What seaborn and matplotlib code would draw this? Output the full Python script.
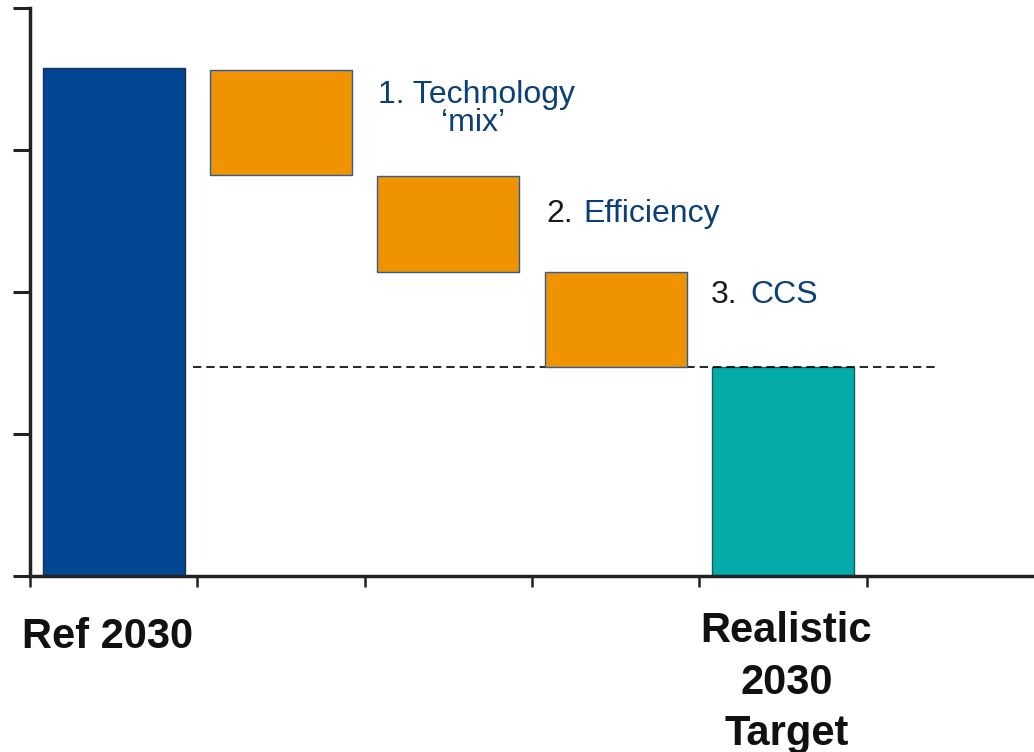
import matplotlib
matplotlib.use("Agg")
import matplotlib.pyplot as plt
import seaborn as sns
import pandas as pd

sns.set_theme(style="white")
plt.rcParams['font.family'] = ['Liberation Sans', 'DejaVu Sans']

# ---- data ----
categories = ["Ref 2030", "Technology 'mix'", "Efficiency", "CCS", "Realistic 2030 Target", ""]
totals = [3.577, None, None, None, 1.472, None]          # full bars
step_tops = [None, 3.563, 2.817, 2.141, None, None]        # floating bars: top
step_bottoms = [None, 2.824, 2.141, 1.472, None, None]     # floating bars: bottom
target_level = 1.472
ref_label = "Ref 2030"
target_label_lines = ["Realistic", "2030", "Target"]

BLUE = "#034693"
ORANGE = "#F09300"
TEAL = "#03ABA9"
TXTBLUE = "#0B3F78"

fig = plt.figure(figsize=(10.34, 7.52), dpi=100)
ax = fig.add_axes([30 / 1034, 176 / 752, 1 - 30 / 1034, (576 - 8) / 752])

pos = list(range(len(categories)))
df = pd.DataFrame({"cat": categories, "val": [t if t is not None else 0 for t in totals]})
colors = [BLUE, "white", "white", "white", TEAL, "white"]
sns.barplot(data=df, x="cat", y="val", order=categories, hue="cat", palette=colors,
            legend=False, width=0.85, ax=ax, saturation=1)
for i, p in enumerate(ax.patches):
    if totals[i % len(totals)] is None:
        p.set_visible(False)
    else:
        p.set_edgecolor("#1d3050" if i == 0 else "#1f5a5a")
        p.set_linewidth(1.0)

# floating (waterfall) bars
for i in pos:
    if step_tops[i] is not None:
        ax.bar(i, step_tops[i] - step_bottoms[i], bottom=step_bottoms[i], width=0.85,
               color=ORANGE, edgecolor="#2b5c9c", linewidth=1.0, zorder=3)

# dashed target line
ax.plot([0.474, 4.92], [target_level, target_level], color="black", lw=1.2,
        dashes=(5, 3), zorder=2)

# step labels
fs = 23
ax.text(1.58, 3.331, "1. Technology", color=TXTBLUE, fontsize=fs, va="baseline", ha="left")
ax.text(2.147, 3.134, "\u2018mix\u2019", color=TXTBLUE, fontsize=fs, va="baseline", ha="center")
ax.text(2.584, 2.493, "2.", color="#1a1a1a", fontsize=fs, va="baseline", ha="left")
ax.text(2.805, 2.493, "Efficiency", color=TXTBLUE, fontsize=fs, va="baseline", ha="left")
ax.text(3.570, 1.923, "3.", color="#1a1a1a", fontsize=fs, va="baseline", ha="left")
ax.text(3.803, 1.923, "CCS", color=TXTBLUE, fontsize=fs, va="baseline", ha="left")

# category labels under the axis
ax.text(-0.034, -0.507, ref_label, fontsize=30, fontweight="bold", ha="center",
        va="baseline", color="#111111", clip_on=False)
for line, yb in zip(target_label_lines, [-0.465, -0.831, -1.19]):
    ax.text(4.02, yb, line, fontsize=30, fontweight="bold", ha="center",
            va="baseline", color="#111111", clip_on=False)

ax.set_xlim(-0.5, 5.5)
ax.set_ylim(0, 4)
ax.set_xlabel("")
ax.set_ylabel("")
ax.set_xticks([-0.5, 0.5, 1.5, 2.5, 3.5, 4.5])
ax.set_xticklabels([])
ax.set_yticks([0, 1, 2, 3, 4])
ax.set_yticklabels([])
ax.tick_params(axis="x", direction="out", length=8, width=1.8, color="#222222", bottom=True)
ax.tick_params(axis="y", direction="out", length=12, width=2.2, color="#222222", left=True)
for s in ["top", "right"]:
    ax.spines[s].set_visible(False)
for s in ["left", "bottom"]:
    ax.spines[s].set_color("#222222")
    ax.spines[s].set_linewidth(2.5)
ax.set_facecolor("white")
fig.patch.set_facecolor("white")

fig.savefig("out.png", dpi=100, facecolor="white")
